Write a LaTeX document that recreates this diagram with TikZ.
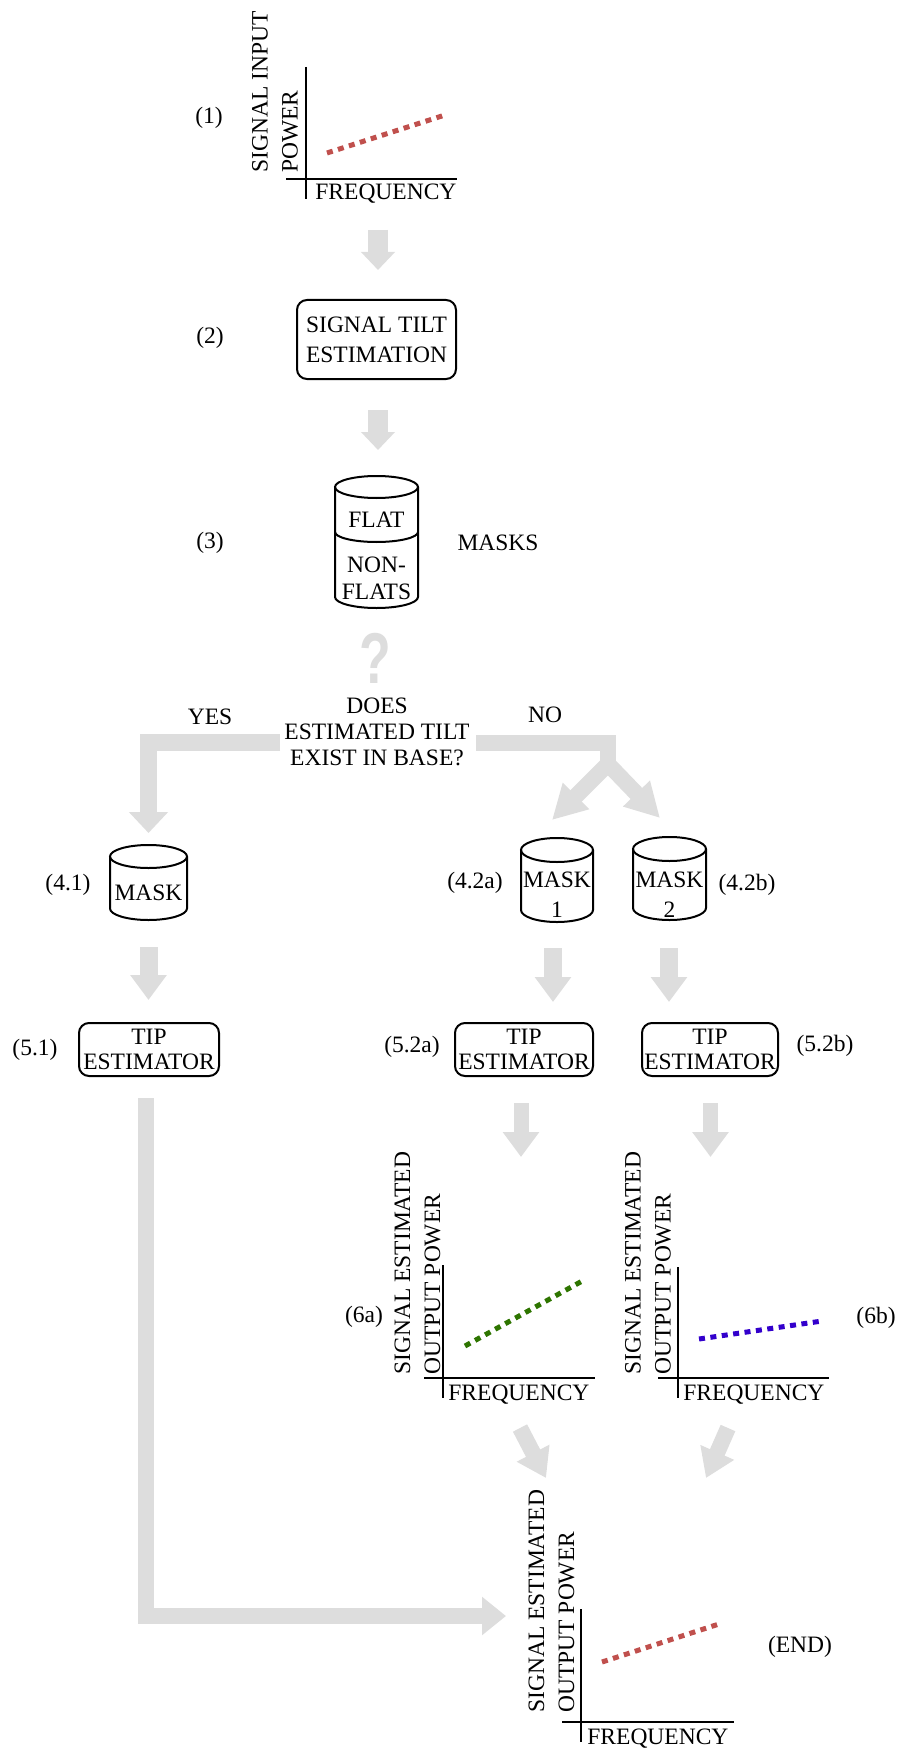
\documentclass[tikz,border=0pt]{standalone}
\usepackage{fontspec}
\setmainfont{Liberation Serif}
\newfontfamily\qfont{Liberation Sans}
\usetikzlibrary{arrows.meta}
\definecolor{arrowgray}{RGB}{221,221,221}
\definecolor{tiltred}{RGB}{192,80,77}
\definecolor{tiltgreen}{RGB}{46,117,0}
\definecolor{tiltblue}{RGB}{51,0,204}
\newcommand{\cylshape}[5]{%
  \draw[cylline] ({#1-#4},{#2+#5}) -- ({#1-#4},{#3-#5})
     arc[start angle=180,end angle=360,x radius=#4*0.5pt,y radius=#5*0.5pt]
     -- ({#1+#4},{#2+#5});
  \draw[cylline] (#1,{#2+#5}) ellipse[x radius=#4*0.5pt,y radius=#5*0.5pt];
}
\begin{document}
\begin{tikzpicture}[x=0.5pt,y=-0.5pt,
  every node/.style={font=\fontsize{11.75}{15}\selectfont, inner sep=0pt},
  procbox/.style={draw, line width=1pt, rounded corners=5pt, align=center},
  axisline/.style={line width=1pt},
  cylline/.style={line width=1pt},
  ylab/.style={rotate=90, anchor=west, align=left},
  freq/.style={anchor=base west},
  tiltline/.style={line width=2.5pt, dash pattern=on 3pt off 2.75pt},
  flowA/.style={draw=arrowgray, line width=10pt, -{Triangle[width=16.5pt,length=9pt]}},
  flowB/.style={draw=arrowgray, line width=9pt, -{Triangle[width=17.5pt,length=12.5pt]}},
  flowC/.style={draw=arrowgray, line width=7.5pt, -{Triangle[width=17.5pt,length=12.5pt]}},
  flowY/.style={draw=arrowgray, line width=8.5pt, -{Triangle[width=19pt,length=10.5pt]}},
  flowN/.style={draw=arrowgray, line width=8pt, -{Triangle[width=17.5pt,length=17pt]}},
  flowD/.style={draw=arrowgray, line width=8pt, -{Triangle[width=17.5pt,length=14pt]}},
  flowL/.style={draw=arrowgray, line width=8.25pt, -{Triangle[width=18.5pt,length=12pt]}},
  barline/.style={draw=arrowgray, line width=8pt},
]
\useasboundingbox (0,0) rectangle (900,1749);

% ---------- (1) input graph
\node (t1) at (209,118) {(1)};
\draw[axisline] (306,67) -- (306,199);
\draw[axisline] (286,179) -- (457,179);
\node[ylab] (g1y) at (275,173) {SIGNAL INPUT\\POWER};
\node[freq] (g1x) at (315,200) {FREQUENCY};
\draw[tiltline, tiltred] (327,153) -- (445,115);

% ---------- (2)
\coordinate (a1s) at (378,230); \coordinate (a1e) at (378,270);
\draw[flowA] (a1s) -- (a1e);
\node (t2) at (210,338) {(2)};
\node[procbox, minimum width=79.5pt, minimum height=39.5pt] (b2) at (376.5,339.5) {SIGNAL TILT\\ESTIMATION};
\coordinate (a2s) at (378,410); \coordinate (a2e) at (378,450);
\draw[flowA] (a2s) -- (a2e);

% ---------- (3)
\cylshape{376.5}{476}{608}{41.5}{11}
\draw[cylline] (335,532) arc[start angle=180,end angle=360,x radius=20.75pt,y radius=5pt];
\node (c3a) at (376.5,520) {FLAT};
\node[align=center, font=\fontsize{11.75}{13.5}\selectfont] (c3b) at (376.5,578.5) {NON-\\FLATS};
\node (t3) at (210,543) {(3)};
\node (masks) at (498,543) {MASKS};

% ---------- decision
\node[text=arrowgray, font=\qfont\bfseries\fontsize{36}{36}\selectfont, xscale=0.72] (q) at (375,658) {?};
\node[align=center, font=\fontsize{11.75}{13}\selectfont] (dec) at (377,732) {DOES\\ESTIMATED TILT\\EXIST IN BASE?};
\node (yes) at (210,717) {YES};
\node (no) at (545,715) {NO};
\coordinate (ys) at (280,742); \coordinate (yc) at (148.5,742); \coordinate (ye) at (148.5,833);
\draw[flowY] (ys) -- (yc) -- (ye);
\coordinate (ns) at (476,742.5); \coordinate (nc) at (608,742.5); \coordinate (nd) at (608,772);
\draw[barline] (ns) -- (nc) -- (nd);
\coordinate (nb) at (608,764);
\coordinate (nl) at (552,820); \coordinate (nr) at (660,818);
\draw[flowN] (nb) -- (nl);
\draw[flowN] (nb) -- (nr);

% ---------- (4)
\node (t41) at (68,885) {(4.1)};
\cylshape{148.5}{845}{920}{38.5}{11.5}
\node (m41) at (148.5,893) {MASK};
\node (t42a) at (475,883) {(4.2a)};
\cylshape{557}{838}{922}{36}{12}
\node[align=center] (m42a) at (557,895) {MASK\\1};
\node (t42b) at (747,885) {(4.2b)};
\cylshape{669.5}{837}{920}{36.5}{12}
\node[align=center] (m42b) at (669.5,895) {MASK\\2};

\coordinate (b1s) at (148.5,947); \coordinate (b1e) at (148.5,1000);
\draw[flowB] (b1s) -- (b1e);
\coordinate (b2s) at (553,948); \coordinate (b2e) at (553,1002);
\draw[flowB] (b2s) -- (b2e);
\coordinate (b3s) at (669,948); \coordinate (b3e) at (669,1002);
\draw[flowB] (b3s) -- (b3e);

% ---------- (5)
\begin{scope}[every node/.append style={font=\fontsize{11.75}{12.5}\selectfont}]
\node[procbox, minimum width=70pt, minimum height=26.5pt] (b51) at (149,1049.5) {TIP\\ESTIMATOR};
\node[procbox, minimum width=69pt, minimum height=26.5pt] (b52a) at (524,1049.5) {TIP\\ESTIMATOR};
\node[procbox, minimum width=68pt, minimum height=26.5pt] (b52b) at (710,1049.5) {TIP\\ESTIMATOR};
\end{scope}
\node (t51) at (35,1050) {(5.1)};
\node (t52a) at (412,1047) {(5.2a)};
\node (t52b) at (825,1046) {(5.2b)};

\coordinate (c1s) at (521,1103); \coordinate (c1e) at (521,1157);
\draw[flowC] (c1s) -- (c1e);
\coordinate (c2s) at (710.5,1103); \coordinate (c2e) at (710.5,1157);
\draw[flowC] (c2s) -- (c2e);

% ---------- (6a)
\draw[axisline] (443,1265) -- (443,1398);
\draw[axisline] (424,1378) -- (595,1378);
\node[ylab] (g6ay) at (417.5,1375) {SIGNAL ESTIMATED\\OUTPUT POWER};
\node[freq] (g6ax) at (448,1400) {FREQUENCY};
\draw[tiltline, tiltgreen] (465,1346) -- (584,1280);
\node (t6a) at (364,1317) {(6a)};

% ---------- (6b)
\draw[axisline] (678,1267) -- (678,1398);
\draw[axisline] (658,1378) -- (829,1378);
\node[ylab] (g6by) at (648,1375) {SIGNAL ESTIMATED\\OUTPUT POWER};
\node[freq] (g6bx) at (683,1400) {FREQUENCY};
\draw[tiltline, tiltblue] (699,1339) -- (822,1321);
\node (t6b) at (876,1318) {(6b)};

% ---------- to end
\coordinate (d1s) at (520,1428); \coordinate (d1e) at (546,1478);
\draw[flowD] (d1s) -- (d1e);
\coordinate (d2s) at (728,1428); \coordinate (d2e) at (706,1478);
\draw[flowD] (d2s) -- (d2e);
\coordinate (ls) at (145.75,1098); \coordinate (lc) at (145.75,1616); \coordinate (le) at (506,1616);
\draw[flowL] (ls) -- (lc) -- (le);

% ---------- (END) graph
\draw[axisline] (581,1609) -- (581,1742);
\draw[axisline] (562,1722) -- (734,1722);
\node[ylab] (gey) at (551.5,1713) {SIGNAL ESTIMATED\\OUTPUT POWER};
\node[freq] (gex) at (587,1744) {FREQUENCY};
\draw[tiltline, tiltred] (602,1662) -- (722,1623);
\node (tend) at (800,1647) {(END)};
\end{tikzpicture}
\end{document}
